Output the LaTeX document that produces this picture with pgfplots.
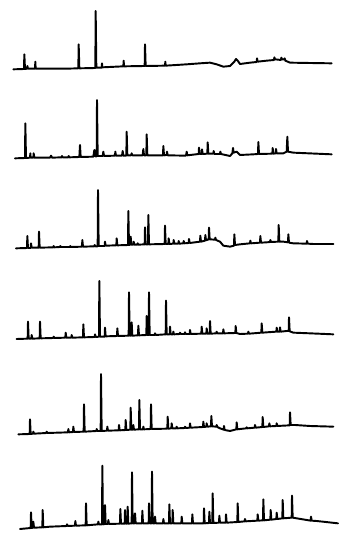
\documentclass[border=0pt]{standalone}
\usepackage{pgfplots}
\pgfplotsset{compat=1.18}
\pgfplotsset{trace/.style={draw=black, solid, mark=none, line width=1.3pt, line join=round, line cap=round}}
\begin{document}
\begin{tikzpicture}
\begin{axis}[
  width=8cm, height=12.615cm, scale only axis,
  xmin=0, xmax=1014, ymin=-1599, ymax=0,
  hide axis, clip=false
]
\path (axis cs:0,0) rectangle (axis cs:1014,-1599);
% trace 1
\addplot[trace] table[y expr=-(\thisrow{y}+0)] {
x y
40 208
72 207
73 163
75 207
81 206
82 198
84 206
105 206
106 185
107 206
150 206
200 206
235 205
236 133
238 205
286 204
287 33
289 203
305 203
306 190
307 202
370 199
371 182
372 199
434 198
435 133
437 198
495 197
496 185
497 197
560 193
600 190
630 188
650 193
670 200
690 198
703 185
708 177
713 182
720 192
750 188
770 186
771 175
773 185
800 182
822 180
823 172
825 178
843 180
844 173
846 178
853 178
854 175
856 182
870 188
930 189
995 190
};
% trace 2
\addplot[trace] table[y expr=-(\thisrow{y}+255)] {
x y
45 220
75 219
76 115
78 219
90 218
91 205
92 218
100 218
101 205
103 218
150 218
153 212
156 218
185 217
186 213
188 217
205 217
206 213
208 217
238 216
240 180
242 216
280 215
283 195
286 214
290 214
291 45
293 213
308 213
310 200
312 213
345 212
346 200
348 212
366 212
368 198
370 212
379 212
380 140
382 211
393 211
395 205
397 211
428 211
430 192
432 211
439 211
440 148
442 211
489 211
490 183
492 211
500 210
501 200
503 211
558 212
560 200
562 211
596 207
597 188
599 207
605 207
606 193
608 207
622 206
623 172
625 206
640 206
641 198
643 207
660 207
661 200
663 207
690 213
697 205
699 189
701 203
710 200
720 210
760 208
774 207
775 171
777 207
817 206
818 189
820 206
827 205
828 192
830 205
850 205
860 200
862 155
864 200
880 203
995 208
};
% trace 3
\addplot[trace] table[y expr=-(\thisrow{y}+525)] {
x y
48 220
81 219
82 183
84 219
92 219
93 205
95 218
116 218
117 170
119 218
160 217
161 213
163 217
180 216
181 213
183 216
210 216
211 213
213 216
246 215
247 195
249 215
283 214
284 210
286 214
293 214
294 45
296 213
314 213
315 200
317 212
349 211
350 190
352 211
384 210
385 108
387 210
391 209
392 185
394 209
400 209
401 200
403 209
412 209
413 205
415 209
434 208
435 157
437 208
444 208
445 120
447 208
494 207
495 152
497 207
505 207
506 190
508 207
520 206
521 195
523 206
535 206
536 198
538 206
550 205
551 198
553 205
566 204
567 192
569 204
600 200
601 182
603 200
615 197
616 180
618 196
626 193
627 158
629 193
645 194
646 188
648 195
660 200
670 212
690 215
702 212
703 178
705 210
720 208
750 205
751 197
753 205
780 203
781 183
783 203
800 202
810 201
811 195
813 201
835 200
836 150
838 200
850 200
864 202
865 178
867 203
880 205
920 206
921 198
923 206
940 207
1000 207
};
% trace 4
\addplot[trace] table[y expr=-(\thisrow{y}+795)] {
x y
50 222
83 221
84 170
86 221
94 221
95 210
97 221
119 220
120 170
122 220
160 219
161 215
163 219
196 218
197 203
199 218
214 218
215 210
217 218
249 217
250 178
252 217
284 216
285 208
287 216
297 215
298 48
300 215
314 215
315 188
317 214
351 213
352 190
354 213
386 212
387 82
389 212
394 212
395 172
397 212
414 211
415 182
417 211
439 210
440 153
442 210
446 210
447 82
449 210
464 210
465 205
467 210
497 208
498 107
500 208
509 208
510 185
512 208
519 208
520 200
522 208
539 207
540 203
542 207
554 207
555 202
557 207
569 207
570 195
572 207
604 206
605 185
607 206
619 206
620 190
622 206
629 206
630 168
632 206
649 205
650 200
652 205
669 205
670 193
672 205
706 204
707 183
709 204
720 207
744 206
745 200
747 206
760 205
784 203
785 175
787 203
800 202
829 200
830 188
832 200
839 200
840 187
842 200
860 198
866 198
867 157
869 199
880 203
930 205
1000 208
};
% trace 5
\addplot[trace] table[y expr=-(\thisrow{y}+1065)] {
x y
55 238
89 237
90 193
92 237
99 236
100 230
102 236
139 234
140 230
142 234
204 232
205 222
207 232
219 231
220 215
222 231
251 230
252 148
254 230
289 228
290 222
292 228
302 228
303 57
305 228
321 227
322 215
324 227
356 226
357 210
359 226
376 225
377 195
379 225
391 224
392 158
394 224
399 224
400 210
402 224
417 223
418 135
420 223
429 223
430 215
432 223
452 222
453 148
455 222
502 221
503 185
505 221
514 220
515 205
517 220
529 220
530 215
532 220
554 219
555 215
557 219
569 218
570 205
572 218
609 216
610 200
612 216
619 215
620 205
622 215
633 214
634 183
636 214
649 215
650 210
652 216
660 220
671 224
672 213
674 225
690 228
709 223
710 202
712 223
720 222
739 220
740 217
742 220
764 218
765 210
767 218
787 216
788 186
790 216
807 214
808 205
810 214
829 213
830 205
832 213
850 212
869 211
870 172
872 210
885 210
930 213
1000 215
};
% trace 6
\addplot[trace] table[y expr=-(\thisrow{y}+1335)] {
x y
60 252
92 249
93 202
95 249
99 248
100 230
102 248
127 247
128 195
130 247
150 245
200 243
201 238
203 243
225 242
226 228
228 242
257 241
258 175
260 241
294 238
295 230
297 238
306 238
307 62
309 238
314 237
315 180
317 237
324 237
325 225
327 237
360 236
361 192
363 236
374 236
375 195
377 236
382 236
383 185
385 236
395 235
396 82
398 235
404 235
405 205
407 235
426 235
427 197
429 235
446 235
447 175
449 235
455 235
456 80
458 235
464 235
465 215
467 235
489 235
490 222
492 235
507 235
508 178
510 235
517 235
518 195
520 235
544 235
545 215
547 235
576 235
577 208
579 235
611 235
612 190
614 235
627 234
628 200
630 234
637 234
638 145
640 234
657 233
658 212
660 233
677 233
678 208
680 233
712 231
713 175
715 231
734 229
735 222
737 229
772 227
773 208
775 227
789 226
790 163
792 226
811 224
812 195
814 224
829 222
830 203
832 222
847 220
848 165
850 220
875 218
876 152
878 218
890 220
932 227
933 215
935 227
950 228
1014 235
};
\end{axis}
\end{tikzpicture}
\end{document}
